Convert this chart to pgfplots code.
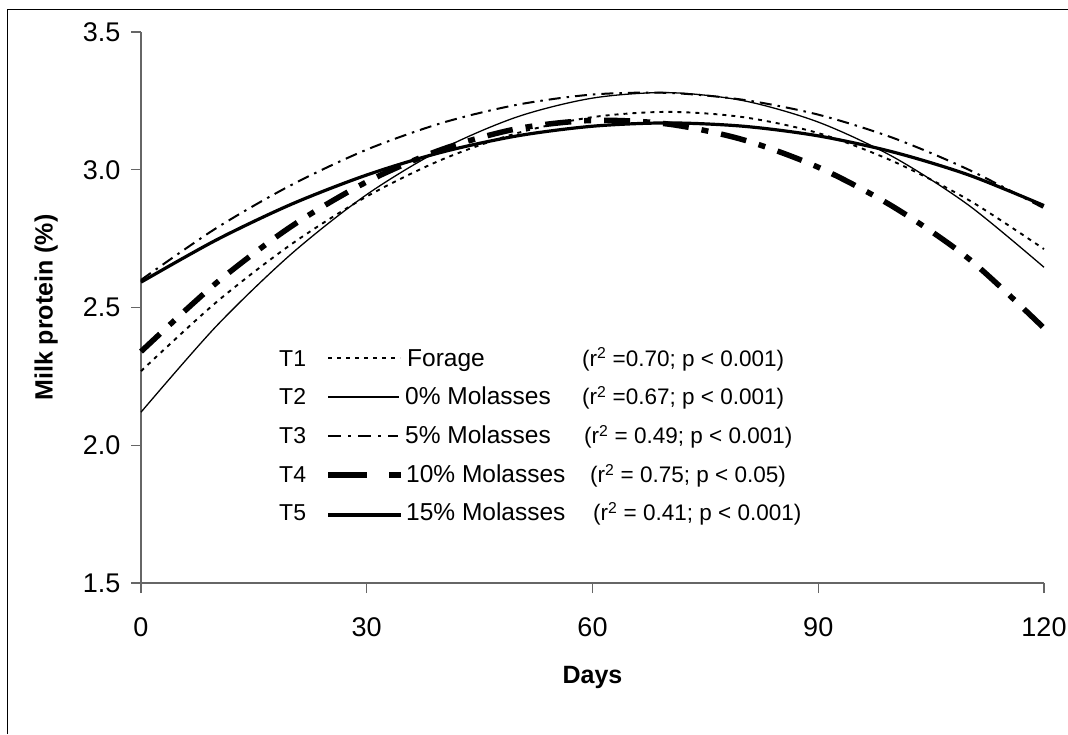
\documentclass[border=0pt]{standalone}
\usepackage{pgfplots}
\pgfplotsset{compat=1.18}
\usepackage{fontspec}
\setmainfont{Liberation Sans}
\begin{document}
\begin{tikzpicture}[x=1pt,y=1pt]
\path[use as bounding box] (0,0) rectangle (1068,734);
\draw[line width=1.3pt] (7.5,0) -- (7.5,724.7) -- (1068,724.7);
\begin{axis}[
  at={(141pt,151pt)}, anchor=south west,
  scale only axis, width=903pt, height=551pt,
  xmin=0, xmax=120, ymin=1.5, ymax=3.5,
  clip=false,
  axis x line*=bottom, axis y line*=left,
  axis line style={-, black!60, line width=1.2pt},
  xtick={0,30,60,90,120},
  ytick={1.5,2.0,2.5,3.0,3.5},
  yticklabel style={/pgf/number format/fixed,/pgf/number format/fixed zerofill,/pgf/number format/precision=1, xshift=-7pt},
  xticklabel style={yshift=-21pt},
  /pgf/number format/assume math mode=true,
  tick label style={font=\fontsize{27}{31}\selectfont},
  tick align=outside, major tick length=10pt,
  tick style={black!60, line width=1.2pt},
  xlabel={Days}, ylabel={Milk protein (\%)},
  every axis x label/.style={at={(axis description cs:0.5,-0.171)}, anchor=center, font=\fontsize{25}{30}\selectfont\bfseries},
  every axis y label/.style={at={(axis description cs:-0.105,0.5)}, anchor=center, rotate=90, font=\fontsize{25}{30}\selectfont\bfseries},
]
% T1 Forage
\addplot[black, line width=1.9pt, dash pattern=on 4pt off 5pt, smooth] coordinates {
(0,2.269) (10,2.519) (20,2.730) (30,2.903) (40,3.037) (50,3.133) (60,3.191) (70,3.210) (80,3.191) (90,3.133) (100,3.030) (110,2.890) (120,2.712)};
% T2 0% Molasses
\addplot[black, line width=1.3pt, smooth] coordinates {
(0,2.120) (10,2.432) (20,2.695) (30,2.910) (40,3.075) (50,3.192) (60,3.260) (70,3.280) (80,3.251) (90,3.173) (100,3.046) (110,2.871) (120,2.646)};
% T3 5% Molasses
\addplot[black, line width=2pt, dash pattern=on 12pt off 6pt on 2.5pt off 6pt, smooth] coordinates {
(0,2.600) (10,2.788) (20,2.945) (30,3.073) (40,3.170) (50,3.236) (60,3.273) (70,3.279) (80,3.254) (90,3.200) (100,3.115) (110,3.000) (120,2.860)};
% T4 10% Molasses
\addplot[black, line width=5.5pt, dash pattern=on 26pt off 13pt on 7pt off 13pt, smooth] coordinates {
(0,2.340) (10,2.589) (20,2.795) (30,2.956) (40,3.074) (50,3.149) (60,3.179) (70,3.166) (80,3.109) (90,3.009) (100,2.865) (110,2.677) (120,2.425)};
% T5 15% Molasses
\addplot[black, line width=3.2pt, smooth] coordinates {
(0,2.592) (10,2.745) (20,2.875) (30,2.981) (40,3.064) (50,3.123) (60,3.158) (70,3.170) (80,3.158) (90,3.123) (100,3.064) (110,2.981) (120,2.870)};
\end{axis}
% legend
\begin{scope}[every node/.style={font=\fontsize{24.5}{28}\selectfont, inner sep=0pt, anchor=base west}]
\begin{scope}[every node/.append style={font=\fontsize{23}{27}\selectfont}]
\node at (279,367.5) {T1};
\node at (279,329) {T2};
\node at (279,290) {T3};
\node at (279,251) {T4};
\node at (279,213) {T5};
\end{scope}
\draw[line width=1.9pt, dash pattern=on 4pt off 5pt] (328,376) -- (400,376);
\draw[line width=1.3pt] (328,337) -- (399,337);
\draw[line width=2pt, dash pattern=on 13pt off 7pt on 3pt off 7pt] (328,298) -- (398,298);
\draw[line width=6.5pt] (328,259) -- (367,259);
\draw[line width=6.5pt] (389,259) -- (401,259);
\draw[line width=3.5pt] (328,219) -- (401,219);
\node at (407,367.5) {Forage};
\node at (405,329) {0\% Molasses};
\node at (405,290) {5\% Molasses};
\node at (406,251) {10\% Molasses};
\node at (406,213) {15\% Molasses};
\begin{scope}[every node/.append style={font=\fontsize{22.5}{27}\selectfont}]
\node at (582,367.5) {(r\textsuperscript{2} =0.70; p < 0.001)};
\node at (582,329) {(r\textsuperscript{2} =0.67; p < 0.001)};
\node at (584,290) {(r\textsuperscript{2} = 0.49; p < 0.001)};
\node at (590,251) {(r\textsuperscript{2} = 0.75; p < 0.05)};
\node at (593,213) {(r\textsuperscript{2} = 0.41; p < 0.001)};
\end{scope}
\end{scope}
\end{tikzpicture}
\end{document}
